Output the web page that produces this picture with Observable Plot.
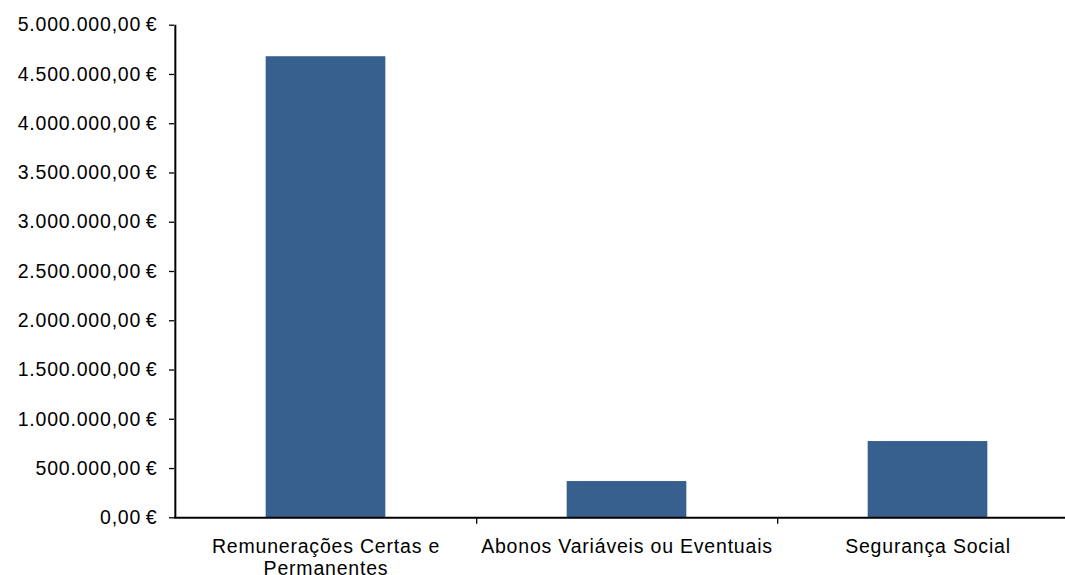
<!DOCTYPE html>
<html>
<head>
<meta charset="utf-8">
<script src="https://cdn.jsdelivr.net/npm/d3@7"></script>
<script src="https://cdn.jsdelivr.net/npm/@observablehq/plot@0.6"></script>
<style>
  html, body { margin: 0; padding: 0; background: #fff; overflow: hidden; }
  #chart svg { display: block; max-width: none !important; width: 1080px !important; height: 575px !important; letter-spacing: 0.8px; }
</style>
</head>
<body>
<div id="chart"></div>
<script>
const categories = ["Remunerações Certas e Permanentes", "Abonos Variáveis ou Eventuais", "Segurança Social"];
const values = [4680000, 368000, 774000];
const tickLabels = ["Remunerações Certas e\nPermanentes", "Abonos Variáveis ou Eventuais", "Segurança Social"];
const yTicks = [0, 500000, 1000000, 1500000, 2000000, 2500000, 3000000, 3500000, 4000000, 4500000, 5000000];

const data = categories.map((c, i) => ({category: c, value: values[i]}));

const pt = d3.formatLocale({decimal: ",", thousands: ".", grouping: [3]});
const fmt = pt.format(",.2f");

const W = 1080, H = 575;
const mL = 174, mR = 2, mT = 24.7, mB = 57.7;
const band = (W - mL - mR) / categories.length;
const barW = 120;
const inset = (band - barW) / 2;

const chart = Plot.plot({
  width: W,
  height: H,
  marginLeft: mL,
  marginRight: mR,
  marginTop: mT,
  marginBottom: mB,
  style: {fontFamily: "'Liberation Sans', Arial, sans-serif", fontSize: "19.5px", color: "#000", background: "#fff"},
  x: {domain: categories, padding: 0, axis: null, label: null},
  y: {domain: [0, 5000000], axis: null, label: null},
  marks: [
    Plot.barY(data, {x: "category", y: "value", fill: "#37608f", insetLeft: inset, insetRight: inset}),
    Plot.axisY({ticks: yTicks, label: null, tickSize: 5, tickPadding: 12, tickFormat: d => fmt(d) + "\u2009€", stroke: "#000", strokeWidth: 1.3, fontSize: 19.5, fill: "#000"}),
    Plot.ruleX([categories[0]], {x: d => d, dx: -band / 2, y1: 0, y2: 5000000, stroke: "#000", strokeWidth: 2}),
    Plot.ruleX(categories, {x: d => d, dx: band / 2, y1: 0, y2: -65000, stroke: "#000", strokeWidth: 1.3}),
    Plot.ruleY([0], {stroke: "#000", strokeWidth: 2}),
    Plot.axisX({label: null, tickSize: 0, tickPadding: 19, tickFormat: d => tickLabels[categories.indexOf(d)], fontSize: 19.5, fill: "#000", lineHeight: 1.15})
  ]
});
document.getElementById("chart").appendChild(chart);
</script>
</body>
</html>
